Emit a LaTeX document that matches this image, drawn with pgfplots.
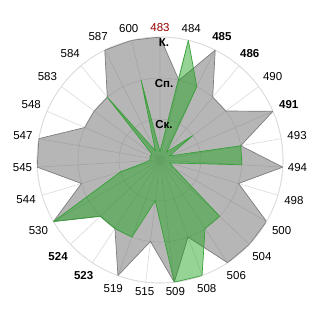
\documentclass[border=0pt]{standalone}
\usepackage{fontspec}
\setmainfont{Liberation Sans}
\usepackage{pgfplots}
\pgfplotsset{compat=1.18}
\usepgfplotslibrary{polar}

\definecolor{grayfill}{RGB}{110,110,110}
\definecolor{grayline}{RGB}{125,125,125}
\definecolor{greenfill}{RGB}{20,160,20}
\definecolor{greenline}{RGB}{55,160,55}
\definecolor{gridc}{RGB}{218,218,218}
\definecolor{darkred}{RGB}{150,0,0}

\begin{document}
\begin{tikzpicture}
\begin{polaraxis}[
  scale only axis, width=246bp, height=246bp,
  ymin=0, ymax=3,
  ytick={1,2,3}, yticklabels={\empty,\empty,\empty},
  yticklabel style={opacity=0},
  xtick={10,23.333,36.667,50,63.333,76.667,90,103.333,116.667,130,143.333,156.667,170,183.333,196.667,210,223.333,236.667,250,263.333,276.667,290,303.333,316.667,330,343.333,356.667},
  xticklabels={493,\textbf{491},490,\textbf{486},\textbf{485},484,\textcolor{darkred}{483},600,587,584,583,548,547,545,544,530,\textbf{524},\textbf{523},519,515,509,508,506,504,500,498,494},
  xticklabel style={font=\fontsize{11.5bp}{13bp}\selectfont, inner sep=5bp},
  major tick length=0pt,
  grid=major,
  major grid style={draw=gridc, line width=0.6bp},
  separate axis lines,
  x axis line style={draw=gridc, line width=0.6bp},
  y axis line style={draw=none},
]
\addplot[draw=grayline, line width=0.7bp, fill=grayfill, fill opacity=0.5] coordinates {
(90,3) (76.667,2) (63.333,3) (50,2) (36.667,2) (23.333,3) (10,2) (356.667,3) (343.333,2) (330,3) (316.667,3) (303.333,3) (290,2) (276.667,3) (263.333,2) (250,3) (236.667,2) (223.333,2) (210,3) (196.667,2) (183.333,3) (170,3) (156.667,2) (143.333,2) (130,2) (116.667,3) (103.333,3) (90,3)
};
\addplot[draw=greenline, line width=0.7bp, fill=greenfill, fill opacity=0.45] coordinates {
(90,0.2) (76.667,3) (63.333,2) (50,0.25) (36.667,1) (23.333,0.25) (10,2) (356.667,2) (343.333,0.25) (330,0.4) (316.667,2) (303.333,2) (290,3) (276.667,3) (263.333,1) (250,2) (236.667,2) (223.333,2) (210,3) (196.667,1) (183.333,0.25) (170,0.25) (156.667,0.25) (143.333,0.25) (130,2) (116.667,0.25) (103.333,2) (90,0.2)
};
\coordinate (c) at (axis cs:0,0);
\node[anchor=north, font=\fontsize{11.5bp}{13bp}\selectfont\bfseries, inner sep=1bp, xshift=4bp] at (axis cs:90,1) {Ск.};
\node[anchor=north, font=\fontsize{11.5bp}{13bp}\selectfont\bfseries, inner sep=1bp, xshift=4bp] at (axis cs:90,2) {Сп.};
\node[anchor=north, font=\fontsize{11.5bp}{13bp}\selectfont\bfseries, inner sep=1bp, xshift=4bp] at (axis cs:90,3) {К.};
\end{polaraxis}
\pgfresetboundingbox
\path (c) ++(-160bp,-160bp) rectangle ++(320bp,320bp);
\end{tikzpicture}
\end{document}
